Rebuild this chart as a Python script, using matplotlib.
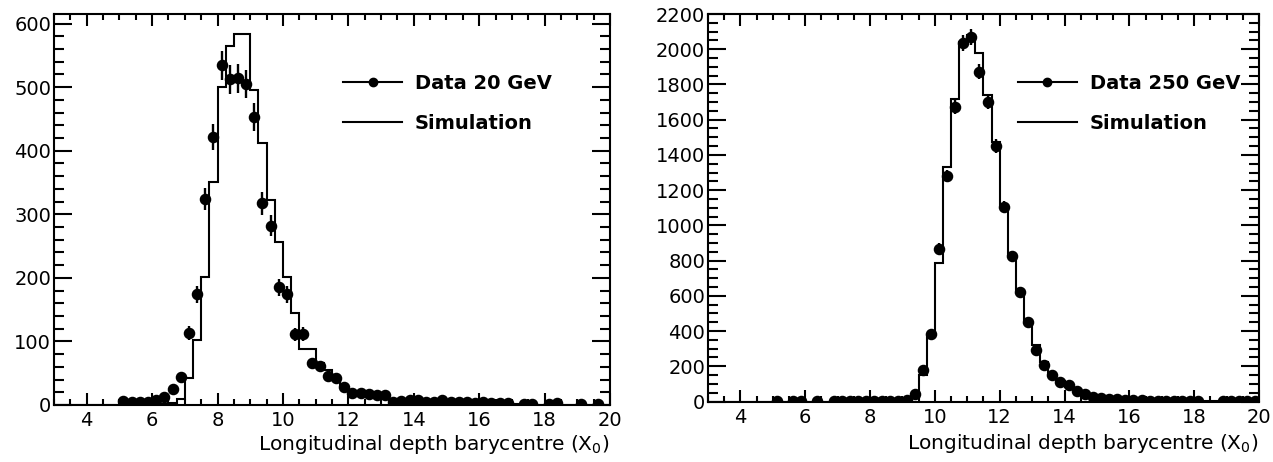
import numpy as np
import matplotlib
matplotlib.use("Agg")
import matplotlib.pyplot as plt
from matplotlib.lines import Line2D
from matplotlib.ticker import MultipleLocator

plt.rcParams["font.family"] = ["DejaVu Sans"]
plt.rcParams["mathtext.fontset"] = "dejavusans"

# Histogram binning (X0)
bin_width = 0.25
x_min, x_max = 3.0, 20.0

# ---- 20 GeV ----
data20_x = [5.125, 5.375, 5.625, 5.875, 6.125, 6.375, 6.625, 6.875, 7.125, 7.375,
            7.625, 7.875, 8.125, 8.375, 8.625, 8.875, 9.125, 9.375, 9.625, 9.875,
            10.125, 10.375, 10.625, 10.875, 11.125, 11.375, 11.625, 11.875, 12.125, 12.375,
            12.625, 12.875, 13.125, 13.375, 13.625, 13.875, 14.125, 14.375, 14.625, 14.875,
            15.125, 15.375, 15.625, 15.875, 16.125, 16.375, 16.625, 16.875, 17.375, 17.625,
            18.125, 18.375, 19.125, 19.625]
data20_n = [7, 5, 4, 5, 8, 13, 25, 44, 113, 174,
            324, 421, 534, 512, 514, 505, 453, 317, 282, 185,
            174, 111, 112, 66, 62, 45, 43, 28, 19, 19,
            17, 15, 15, 5, 6, 8, 8, 5, 4, 8,
            5, 4, 5, 3, 4, 3, 3, 3, 2, 2,
            2, 3, 2, 2]
sim20_n = [0] * 13 + [
    2, 3, 10, 43, 102, 201, 351, 500, 564, 583,
    583, 495, 412, 322, 257, 201, 145, 88, 88, 66,
    55, 42, 30, 20, 18, 16, 14, 12, 7, 6,
    5, 5, 4, 4, 3, 3, 3, 2, 2, 2,
    2, 2, 1, 1, 1, 1] + [0] * 9

# ---- 250 GeV ----
data250_x = [5.125, 5.625, 5.875, 6.375, 6.875, 7.125, 7.375, 7.625, 7.875, 8.125,
             8.375, 8.625, 8.875, 9.125, 9.375, 9.625, 9.875, 10.125, 10.375, 10.625,
             10.875, 11.125, 11.375, 11.625, 11.875, 12.125, 12.375, 12.625, 12.875, 13.125,
             13.375, 13.625, 13.875, 14.125, 14.375, 14.625, 14.875, 15.125, 15.375, 15.625,
             15.875, 16.125, 16.375, 16.625, 16.875, 17.125, 17.375, 17.625, 17.875, 18.125,
             18.875, 19.125, 19.375, 19.625, 19.875]
data250_n = [3, 2, 2, 3, 2, 2, 2, 2, 2, 2,
             3, 3, 5, 10, 45, 178, 385, 868, 1281, 1673,
             2037, 2070, 1872, 1702, 1451, 1107, 827, 623, 451, 292,
             210, 153, 110, 91, 59, 44, 25, 21, 15, 15,
             10, 8, 7, 5, 5, 4, 4, 3, 3, 2,
             2, 2, 1, 1, 1]
sim250_n = [0] * 24 + [
    8, 20, 148, 378, 788, 1332, 1717, 2043, 2081, 1980,
    1740, 1474, 1114, 830, 631, 464, 322, 222, 158, 115,
    85, 60, 42, 30, 22, 16, 12, 9, 7, 6,
    5, 4, 3, 3, 2, 2, 2, 1, 1, 1,
    1, 1, 1, 1]

x_ticks = [4, 6, 8, 10, 12, 14, 16, 18, 20]
x_label = r"Longitudinal depth barycentre (X$_0$)"

panels = [
    dict(data_x=data20_x, data_n=data20_n, sim=sim20_n, ymax=615, ymajor=100,
         yminor=20, label="Data 20 GeV", labelpad=2),
    dict(data_x=data250_x, data_n=data250_n, sim=sim250_n, ymax=2200, ymajor=200,
         yminor=50, label="Data 250 GeV", labelpad=4),
]

W, H = 1273, 462
fig = plt.figure(figsize=(W / 100, H / 100), dpi=100)
rects = [(54, 14, 610, 405), (708, 14, 1259, 401.5)]
leg_anchor = [(0.52, 0.772), (0.5626, 0.770)]

edges = np.arange(x_min, x_max + bin_width / 2, bin_width)

for p, (x0, y0, x1, y1), anchor in zip(panels, rects, leg_anchor):
    ax = fig.add_axes([x0 / W, 1 - y1 / H, (x1 - x0) / W, (y1 - y0) / H])
    ax.stairs(p["sim"], edges, color="black", lw=1.5, baseline=None)
    n = np.asarray(p["data_n"], dtype=float)
    ax.errorbar(p["data_x"], n, yerr=np.sqrt(n), fmt="o", color="black",
                ms=7.3, elinewidth=1.7, capsize=0)

    ax.set_xlim(x_min, x_max)
    ax.set_ylim(0, p["ymax"])
    ax.set_xticks(x_ticks)
    ax.xaxis.set_minor_locator(MultipleLocator(0.5))
    ax.yaxis.set_major_locator(MultipleLocator(p["ymajor"]))
    ax.yaxis.set_minor_locator(MultipleLocator(p["yminor"]))
    ax.tick_params(axis="both", which="both", direction="in", top=True,
                   right=True, width=1.5, labelsize=14)
    ax.tick_params(axis="y", which="major", length=13, pad=2)
    ax.tick_params(axis="y", which="minor", length=7.5)
    ax.tick_params(axis="x", which="major", length=8.5, pad=4.5)
    ax.tick_params(axis="x", which="minor", length=4)
    for s in ax.spines.values():
        s.set_linewidth(1.5)

    ax.set_xlabel(x_label, loc="right", fontsize=14.5, labelpad=p["labelpad"])

    handles = [Line2D([], [], color="black", marker="o", ms=6, lw=1.5),
               Line2D([], [], color="black", lw=1.5)]
    ax.legend(handles, [p["label"], "Simulation"], loc="center left",
              bbox_to_anchor=anchor, frameon=False, borderpad=0,
              borderaxespad=0, handlelength=3.03, handletextpad=0.67,
              labelspacing=1.08, prop=dict(size=14, weight="bold"))

fig.savefig("out.png", dpi=100)
